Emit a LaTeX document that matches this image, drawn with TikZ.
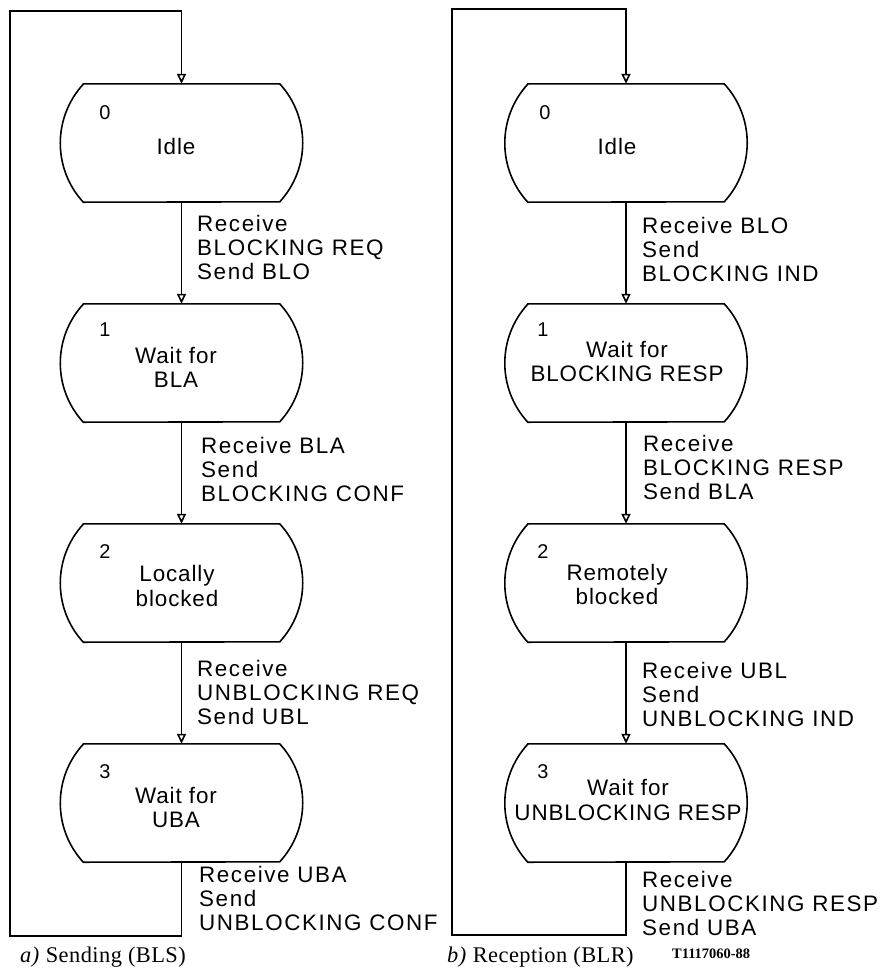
\documentclass[tikz,border=0pt]{standalone}
\usepackage{fontspec}
\setmainfont{Liberation Serif}
\newfontfamily\lblfont[LetterSpace=7]{Liberation Sans}
\newfontfamily\stfont[LetterSpace=4]{Liberation Sans}
\newfontfamily\numfont{Liberation Sans}
\newfontfamily\capfont[LetterSpace=2]{Liberation Serif}
\usetikzlibrary{arrows.meta}
\tikzset{
  wire/.style={line width=1.6bp},
  flow/.style={wire, -{Triangle[open, width=9bp, length=10bp]}},
  statebox/.style={rectangle, minimum width=196bp, minimum height=118bp, inner sep=0pt, draw=none},
  lbl/.style={anchor=base west, inner sep=0pt, font=\lblfont\fontsize{22.5}{24.5}\selectfont},
  stxt/.style={inner sep=0pt, font=\stfont\fontsize{22.5}{24.5}\selectfont},
  snum/.style={inner sep=0pt, font=\numfont\fontsize{20}{22}\selectfont},
  capt/.style={anchor=base west, inner sep=0pt, font=\capfont\fontsize{22.5}{26}\selectfont},
  fignum/.style={anchor=base west, inner sep=0pt, font=\bfseries\fontsize{14.5}{16}\selectfont},
}
\newcommand{\stateoutline}[1]{%
  \draw[wire] (#1.north west) -- (#1.north east)
    arc[start angle=-42.6, end angle=42.6, radius=87.2]
    -- (#1.south west)
    arc[start angle=137.4, end angle=222.6, radius=87.2] -- cycle;}
\begin{document}
\begin{tikzpicture}[x=1bp, y=-1bp]
\useasboundingbox (0,0) rectangle (882,971);

% ---------- a) Sending ----------
\node[statebox] (a0) at (181.5,143) {};
\node[statebox] (a1) at (181.5,363) {};
\node[statebox] (a2) at (181.5,583) {};
\node[statebox] (a3) at (181.5,803) {};
\foreach \n in {a0,a1,a2,a3} {\stateoutline{\n}}

\node[snum] (a0n) at (105,113) {0};
\node[snum] (a1n) at (105,330) {1};
\node[snum] (a2n) at (105,552) {2};
\node[snum] (a3n) at (105,772) {3};

\node[stxt] (a0t) at (176,150) {\begin{tabular}{@{}c@{}}Idle\end{tabular}};
\node[stxt] (a1t) at (176,370.5) {\begin{tabular}{@{}c@{}}Wait for\\BLA\end{tabular}};
\node[stxt] (a2t) at (177,589) {\begin{tabular}{@{}c@{}}Locally\\blocked\end{tabular}};
\node[stxt] (a3t) at (176,810.5) {\begin{tabular}{@{}c@{}}Wait for\\UBA\end{tabular}};

\draw[flow] (a0.south) -- (a1.north);
\draw[flow] (a1.south) -- (a2.north);
\draw[flow] (a2.south) -- (a3.north);
\coordinate (aBL) at (10,936);
\coordinate (aTL) at (10,11);
\draw[flow] (a3.south) -- (a3.south |- aBL) -- (aBL) -- (aTL) -- (a0.north |- aTL) -- (a0.north);

\node[lbl] (a01) at (197,231) {\begin{tabular}[t]{@{}l@{}}Receive\\BLOCKING REQ\\Send BLO\end{tabular}};
\node[lbl] (a12) at (201,453) {\begin{tabular}[t]{@{}l@{}}Receive BLA\\Send\\BLOCKING CONF\end{tabular}};
\node[lbl] (a23) at (197,676) {\begin{tabular}[t]{@{}l@{}}Receive\\UNBLOCKING REQ\\Send UBL\end{tabular}};
\node[lbl] (a30) at (199,882) {\begin{tabular}[t]{@{}l@{}}Receive UBA\\Send\\UNBLOCKING CONF\end{tabular}};

\node[capt] (acap) at (20,962) {\textit{a)} Sending (BLS)};

% ---------- b) Reception ----------
\node[statebox] (b0) at (626,143) {};
\node[statebox] (b1) at (626,363) {};
\node[statebox] (b2) at (626,583) {};
\node[statebox] (b3) at (626,803) {};
\foreach \n in {b0,b1,b2,b3} {\stateoutline{\n}}

\node[snum] (b0n) at (545,113) {0};
\node[snum] (b1n) at (543,330) {1};
\node[snum] (b2n) at (543,552) {2};
\node[snum] (b3n) at (543,772) {3};

\node[stxt] (b0t) at (617,150) {\begin{tabular}{@{}c@{}}Idle\end{tabular}};
\node[stxt] (b1t) at (627,364.5) {\begin{tabular}{@{}c@{}}Wait for\\BLOCKING RESP\end{tabular}};
\node[stxt] (b2t) at (617,587.5) {\begin{tabular}{@{}c@{}}Remotely\\blocked\end{tabular}};
\node[stxt] (b3t) at (628,803) {\begin{tabular}{@{}c@{}}Wait for\\UNBLOCKING RESP\end{tabular}};

\draw[flow] (b0.south) -- (b1.north);
\draw[flow] (b1.south) -- (b2.north);
\draw[flow] (b2.south) -- (b3.north);
\coordinate (bBL) at (452,935);
\coordinate (bTL) at (452,9);
\draw[flow] (b3.south) -- (b3.south |- bBL) -- (bBL) -- (bTL) -- (b0.north |- bTL) -- (b0.north);

\node[lbl] (b01) at (642,233) {\begin{tabular}[t]{@{}l@{}}Receive BLO\\Send\\BLOCKING IND\end{tabular}};
\node[lbl] (b12) at (643,451) {\begin{tabular}[t]{@{}l@{}}Receive\\BLOCKING RESP\\Send BLA\end{tabular}};
\node[lbl] (b23) at (642,678) {\begin{tabular}[t]{@{}l@{}}Receive UBL\\Send\\UNBLOCKING IND\end{tabular}};
\node[lbl] (b30) at (642,887) {\begin{tabular}[t]{@{}l@{}}Receive\\UNBLOCKING RESP\\Send UBA\end{tabular}};

\node[capt] (bcap) at (447,962) {\textit{b)} Reception (BLR)};
\node[fignum] (fid) at (672,958) {T1117060-88};
\end{tikzpicture}
\end{document}
